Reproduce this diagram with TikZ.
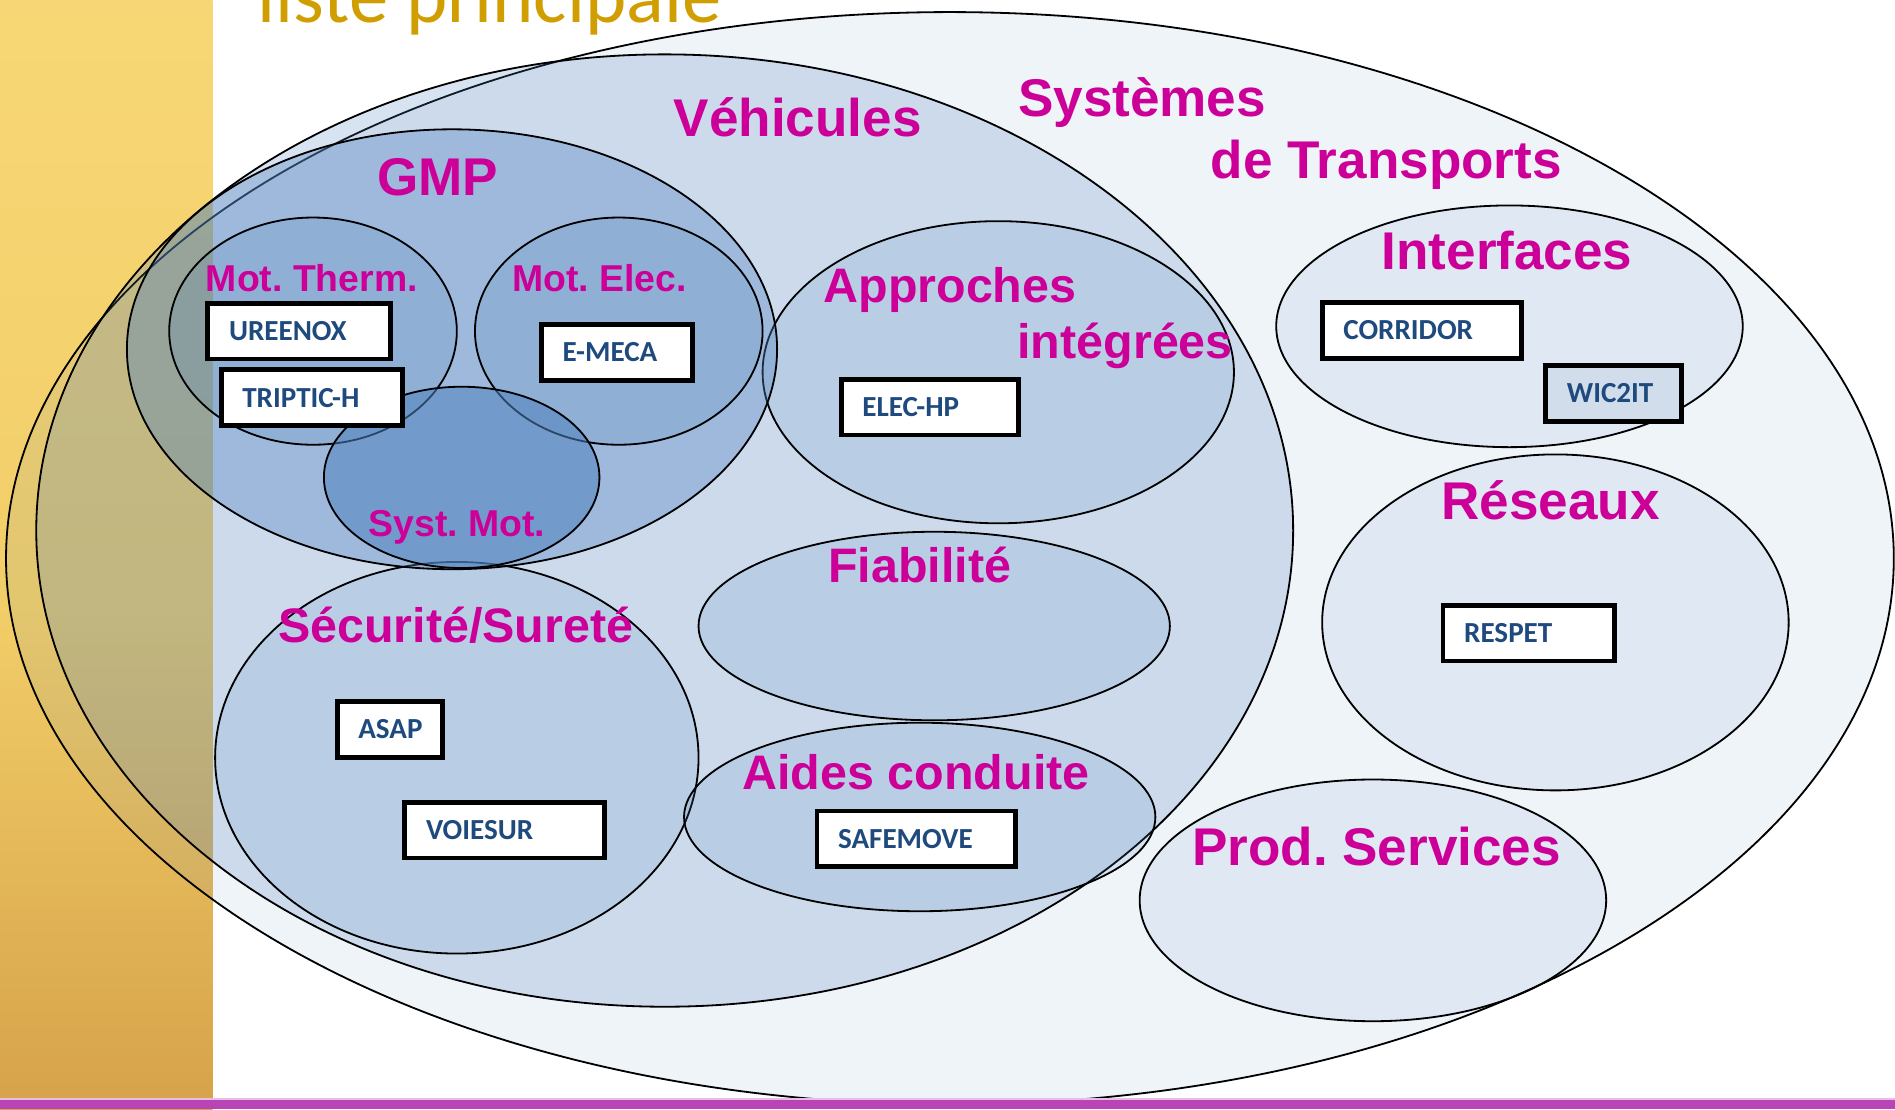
\documentclass[tikz,border=0pt]{standalone}
\usepackage{fontspec}
\frenchspacing
\newfontfamily\labfont{Liberation Sans}
\newfontfamily\boxfont{Carlito}
\newfontfamily\titlefont{Carlito}
\definecolor{vblue}{HTML}{4F81BD}
\definecolor{labmag}{HTML}{CC0099}
\definecolor{boxblue}{HTML}{1F4A7E}
\definecolor{goldtxt}{HTML}{D09E00}
\definecolor{bandtop}{HTML}{F7D775}
\definecolor{bandmid}{HTML}{F2CE68}
\definecolor{bandbot}{HTML}{D6A24A}
\definecolor{barpurple}{HTML}{B944B5}
\definecolor{wicfill}{HTML}{D2DDEC}
\tikzset{
  venn/.style={draw=black, line width=0.3mm, fill=vblue, fill opacity=#1},
  biglab/.style={anchor=base, inner sep=0, text=labmag, font=\labfont\bfseries\fontsize{25pt}{30pt}\selectfont},
  midlab/.style={anchor=base, inner sep=0, text=labmag, font=\labfont\bfseries\fontsize{22.8pt}{27pt}\selectfont},
  smalllab/.style={anchor=base, inner sep=0, text=labmag, font=\labfont\bfseries\fontsize{17.6pt}{21pt}\selectfont},
  projbox/.style={draw=black, line width=0.8mm, fill=white, text=boxblue,
    font=\boxfont\bfseries\fontsize{13.7pt}{16pt}\selectfont,
    inner xsep=3.5mm, inner ysep=0pt, minimum height=9.2mm, text width=#1, align=left}
}
\begin{document}
\begin{tikzpicture}[x=0.2mm,y=-0.2mm]
\useasboundingbox (0,0) rectangle (1568,918);
\clip (0,0) rectangle (1568,918);
% background band
\shade[top color=bandtop, bottom color=bandmid] (0,0) rectangle (176,500);
\shade[top color=bandmid, bottom color=bandbot] (0,499.5) rectangle (176,918);
\node[anchor=base west, inner sep=0, text=goldtxt, font=\titlefont\fontsize{37pt}{44pt}\selectfont] (title) at (213,19) {liste principale};
% outer: Systemes de Transports
\path[venn=0.09] (786,462) ellipse [x radius=781, y radius=452];
% Vehicules
\path[venn=0.22] (550,439) ellipse [x radius=520, y radius=394];
% inner ellipses of Vehicules
\path[venn=0.15] (378,627) ellipse [x radius=200, y radius=162];
\path[venn=0.15] (826,308) ellipse [x radius=195, y radius=125];
\path[venn=0.15] (773,518) ellipse [x radius=195, y radius=78];
\path[venn=0.15] (761,676) ellipse [x radius=195, y radius=78];
% Transport inner ellipses
\path[venn=0.10] (1249,270) ellipse [x radius=193, y radius=100];
\path[venn=0.10] (1287,515) ellipse [x radius=193, y radius=139];
\path[venn=0.10] (1136,745) ellipse [x radius=193, y radius=100];
% GMP
\path[venn=0.37] (374,289) ellipse [x radius=269, y radius=182];
\path[venn=0.18] (259,274) ellipse [x radius=119, y radius=94];
\path[venn=0.18] (512,274) ellipse [x radius=119, y radius=94];
\path[venn=0.55] (382,395) ellipse [x radius=114, y radius=75];
% bottom bar
\fill[barpurple!35] (0,908.5) rectangle (1568,910);
\fill[barpurple] (0,910) rectangle (1568,918);
% labels
\node[biglab] (sys1) at (945,96) {Systèmes};
\node[biglab] (sys2) at (1147,148) {de Transports};
\node[biglab] (veh) at (660,113) {Véhicules};
\node[biglab] (gmp) at (362,162) {GMP};
\node[smalllab] (mth) at (258,241) {Mot. Therm.};
\node[smalllab] (mel) at (496,241) {Mot. Elec.};
\node[smalllab] (smo) at (378,444) {Syst. Mot.};
\node[midlab] (app1) at (786,250) {Approches};
\node[midlab] (app2) at (931,297) {intégrées};
\node[midlab] (fia) at (761,482) {Fiabilité};
\node[midlab] (sec) at (377,532) {Sécurité/Sureté};
\node[midlab] (aid) at (758,653) {Aides conduite};
\node[biglab] (intf) at (1247,223) {Interfaces};
\node[biglab] (res) at (1283,430) {Réseaux};
\node[biglab] (prod) at (1139,716) {Prod. Services};
% project boxes
\node[projbox=23.2mm] (ureenox) at (247.5,274) {UREENOX};
\node[projbox=23mm] (triptic) at (258,329) {TRIPTIC-H};
\node[projbox=18mm] (emeca) at (510.5,291.5) {E-MECA};
\node[projbox=22.4mm] (elechp) at (769.5,337) {ELEC-HP};
\node[projbox=26mm] (corridor) at (1176.5,273.5) {CORRIDOR};
\node[projbox=15.4mm, fill=wicfill] (wic) at (1335,325.5) {WIC2IT};
\node[projbox=21.4mm] (respet) at (1265,524) {RESPET};
\node[projbox=10.4mm] (asap) at (322.5,603.5) {ASAP};
\node[projbox=26mm] (voiesur) at (417.5,687) {VOIESUR};
\node[projbox=25.8mm] (safemove) at (758,694) {SAFEMOVE};
\end{tikzpicture}
\end{document}
